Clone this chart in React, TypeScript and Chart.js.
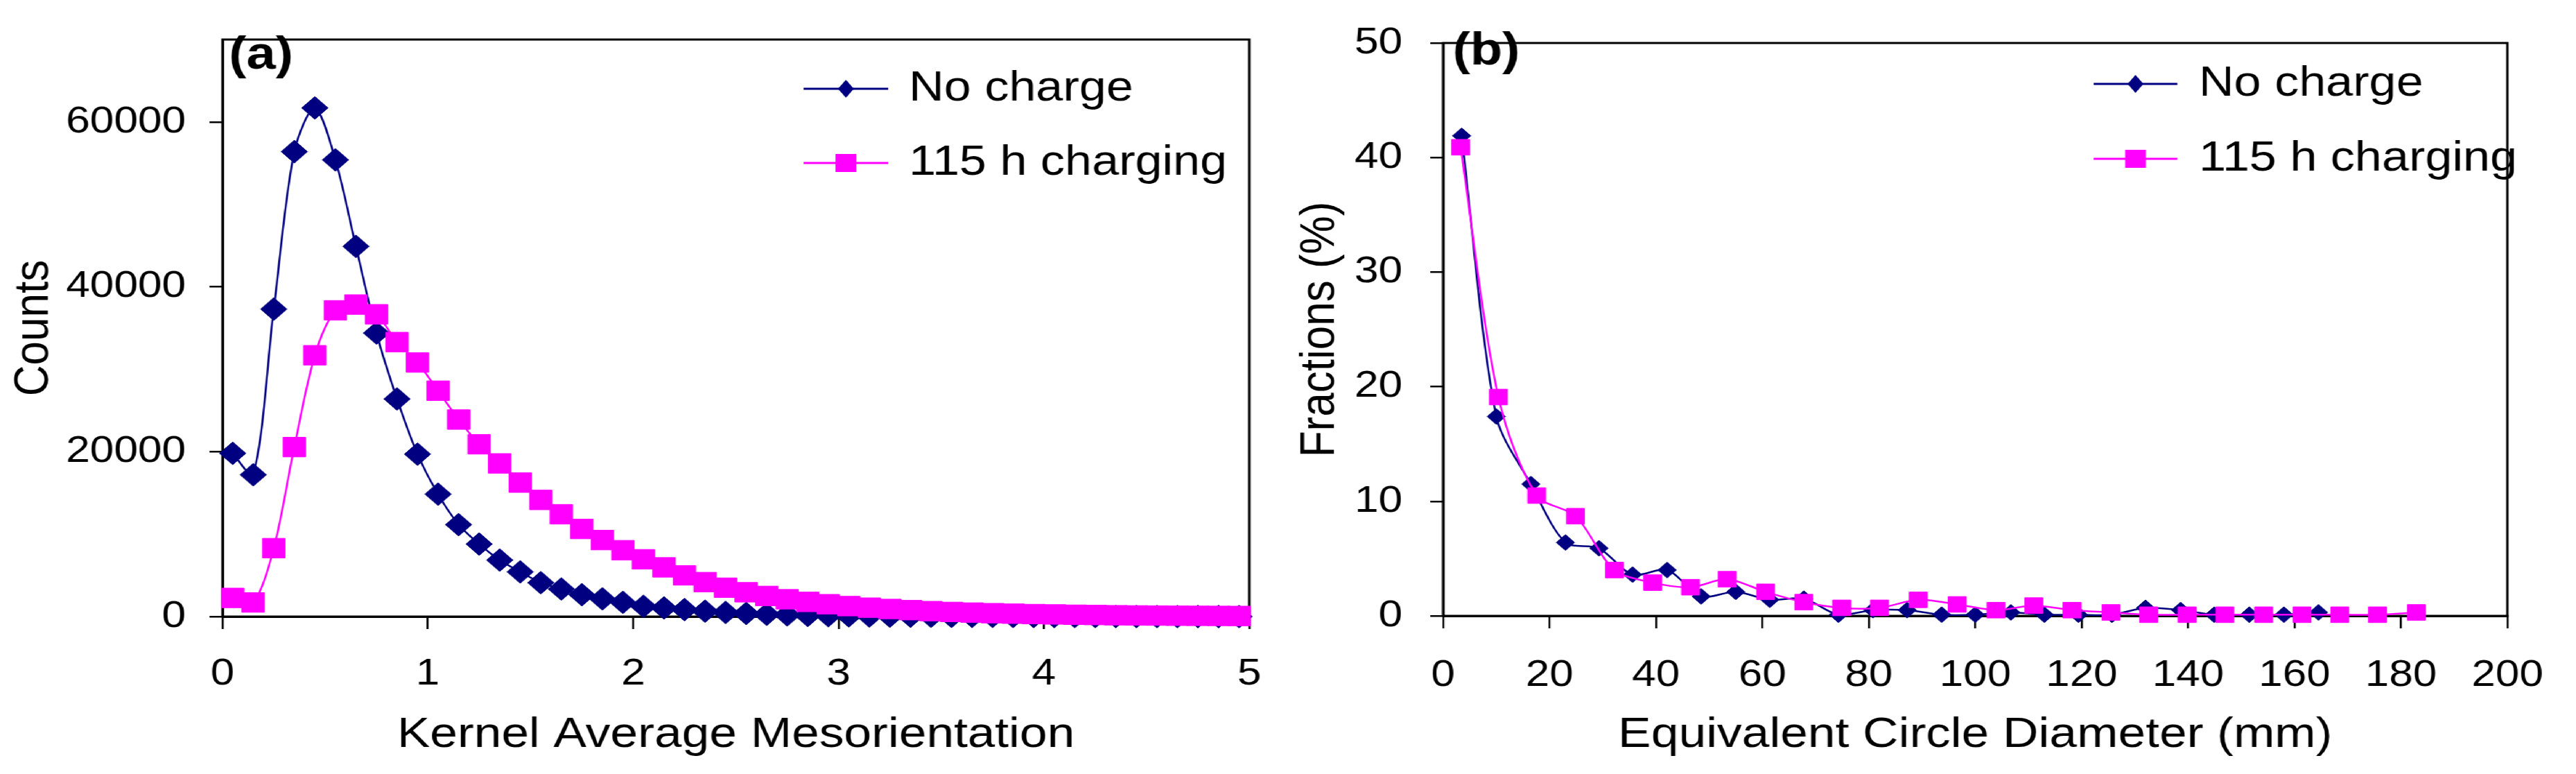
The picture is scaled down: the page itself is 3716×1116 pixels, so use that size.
import { useEffect, useRef } from 'react';
import { Chart, registerables, type ChartConfiguration, type Plugin } from 'chart.js';

Chart.register(...registerables);

// the source figure is a bit wider than its fonts, so the whole page is drawn
// at 3231 px and stretched out to 3716 px
const PAGE_W = 3231;
const PAGE_H = 1116;
const STRETCH = 3716 / PAGE_W;
const FONT = "Arial, 'Liberation Sans', sans-serif";
const NAVY = '#000080';
const MAGENTA = '#ff00ff';

Chart.defaults.font.family = FONT;
Chart.defaults.color = '#000000';

const seriesNames = ['No charge', '115 h charging'];

// (a) kernel average mesorientation, bin centres
const kamBins = [
  0.05, 0.15, 0.25, 0.35, 0.45, 0.55, 0.65, 0.75, 0.85, 0.95,
  1.05, 1.15, 1.25, 1.35, 1.45, 1.55, 1.65, 1.75, 1.85, 1.95,
  2.05, 2.15, 2.25, 2.35, 2.45, 2.55, 2.65, 2.75, 2.85, 2.95,
  3.05, 3.15, 3.25, 3.35, 3.45, 3.55, 3.65, 3.75, 3.85, 3.95,
  4.05, 4.15, 4.25, 4.35, 4.45, 4.55, 4.65, 4.75, 4.85, 4.95,
];
const kamNoCharge = [
  19800, 17200, 37300, 56400, 61700, 55400, 44900, 34400, 26400, 19700,
  14850, 11150, 8800, 6850, 5420, 4110, 3350, 2650, 2150, 1730,
  1250, 1050, 850, 650, 500, 380, 280, 200, 140, 100,
  80, 60, 50, 40, 32, 26, 20, 16, 12, 10,
  8, 6, 5, 4, 3, 2, 2, 1, 1, 1,
];
const kamCharged = [
  2260, 1710, 8300, 20560, 31700, 37150, 37850, 36670, 33300, 30820,
  27400, 23900, 20900, 18580, 16250, 14150, 12410, 10630, 9280, 8050,
  6950, 5970, 5000, 4180, 3500, 2950, 2500, 2100, 1780, 1500,
  1270, 1080, 920, 780, 660, 560, 480, 410, 350, 300,
  260, 220, 190, 160, 140, 120, 100, 90, 80, 70,
];
const kamXTicks = [0, 1, 2, 3, 4, 5];
const kamYTicks = [0, 20000, 40000, 60000];

// (b) equivalent circle diameter distribution
const ecdNoChargeX = [
  3.5, 10.0, 16.5, 23.0, 29.3, 35.6, 42.1, 48.5, 55.0, 61.4, 67.8, 74.3, 80.8,
  87.2, 93.7, 100.0, 106.7, 113.0, 119.4, 125.7, 132.0, 138.6, 144.9, 151.5, 158.0, 164.5,
];
const ecdNoCharge = [
  41.9, 17.4, 11.5, 6.4, 5.9, 3.6, 4.0, 1.7, 2.1, 1.4, 1.5, 0.1, 0.5,
  0.5, 0.1, 0.1, 0.3, 0.1, 0.1, 0.1, 0.7, 0.5, 0.1, 0.1, 0.1, 0.3,
];
const ecdChargedX = [
  3.3, 10.4, 17.6, 24.9, 32.2, 39.4, 46.5, 53.4, 60.6, 67.8, 74.9, 82.0, 89.3,
  96.6, 103.9, 111.0, 118.2, 125.5, 132.6, 139.8, 146.9, 154.2, 161.4, 168.5, 175.6, 182.9,
];
const ecdCharged = [
  40.9, 19.1, 10.5, 8.7, 4.0, 2.9, 2.5, 3.2, 2.1, 1.2, 0.7, 0.7, 1.4,
  1.0, 0.5, 0.9, 0.5, 0.3, 0.1, 0.1, 0.1, 0.1, 0.1, 0.1, 0.1, 0.3,
];
const ecdXTicks = [0, 20, 40, 60, 80, 100, 120, 140, 160, 180, 200];
const ecdYTicks = [0, 10, 20, 30, 40, 50];

const pairs = (xs: number[], ys: number[]) => xs.map((x, i) => ({ x, y: ys[i] }));

// plot frame, panel tag and the in-plot legend (line + marker + label)
const decor: Plugin = {
  id: 'decor',
  beforeDatasetsDraw(chart) {
    const { ctx, chartArea: a } = chart;
    ctx.save();
    ctx.strokeStyle = '#000';
    ctx.lineWidth = 3;
    ctx.strokeRect(a.left, a.top, a.right - a.left, a.bottom - a.top);
    ctx.restore();
  },
  afterDraw(chart, _args, opts: any) {
    const { ctx } = chart;
    ctx.save();
    ctx.fillStyle = '#000';
    ctx.font = `bold 66px ${FONT}`;
    ctx.textBaseline = 'alphabetic';
    ctx.fillText(opts.tag, opts.tagX, opts.tagY);

    chart.data.datasets.forEach((ds: any, i: number) => {
      const y = opts.rows[i];
      const cx = (opts.lineX0 + opts.lineX1) / 2;
      ctx.strokeStyle = ds.borderColor;
      ctx.lineWidth = 3;
      ctx.beginPath();
      ctx.moveTo(opts.lineX0, y);
      ctx.lineTo(opts.lineX1, y);
      ctx.stroke();
      ctx.fillStyle = ds.borderColor;
      ctx.beginPath();
      if (ds.pointStyle === 'rectRot') {
        ctx.moveTo(cx, y - 13);
        ctx.lineTo(cx + 10, y);
        ctx.lineTo(cx, y + 13);
        ctx.lineTo(cx - 10, y);
        ctx.closePath();
      } else {
        ctx.rect(cx - 13, y - 13, 26, 26);
      }
      ctx.fill();
      ctx.fillStyle = '#000';
      ctx.font = `61px ${FONT}`;
      ctx.textBaseline = 'middle';
      ctx.fillText(ds.label, opts.textX, y);
    });
    ctx.restore();
  },
};

type AxisSpec = {
  xMax: number; yMax: number;
  xTicks: number[]; yTicks: number[];
  xTitle: string; yTitle: string;
  yAxisW: number; xAxisH: number;
  yTickPad: number; xTickPad: number; yTitlePad: number;
};

function makeScales(s: AxisSpec): any {
  const tickFont = { family: FONT, size: 54, lineHeight: 1 };
  const titleFont = { family: FONT, size: 62, lineHeight: 1.1 };
  return {
    x: {
      type: 'linear',
      min: 0,
      max: s.xMax,
      border: { color: '#000', width: 3 },
      grid: { drawOnChartArea: false, color: '#000', lineWidth: 2.5, tickLength: 18 },
      ticks: {
        font: tickFont, color: '#000', padding: s.xTickPad,
        maxRotation: 0, autoSkip: false, callback: (v: number) => String(v),
      },
      afterBuildTicks: (axis: any) => { axis.ticks = s.xTicks.map((value) => ({ value })); },
      title: { display: true, text: s.xTitle, font: titleFont, color: '#000', padding: { top: 0, bottom: 22 } },
      afterFit: (axis: any) => { axis.height = s.xAxisH; },
    },
    y: {
      type: 'linear',
      min: 0,
      max: s.yMax,
      border: { color: '#000', width: 3 },
      grid: { drawOnChartArea: false, color: '#000', lineWidth: 2.5, tickLength: 16 },
      ticks: {
        font: tickFont, color: '#000', padding: s.yTickPad, autoSkip: false,
        callback: (v: number) => String(v),
      },
      afterBuildTicks: (axis: any) => { axis.ticks = s.yTicks.map((value) => ({ value })); },
      title: { display: true, text: s.yTitle, font: titleFont, color: '#000', padding: { top: s.yTitlePad, bottom: 0 } },
      afterFit: (axis: any) => { axis.width = s.yAxisW; },
    },
  };
}

function series(label: string, color: string, style: 'rectRot' | 'rect', radius: number, data: { x: number; y: number }[], order: number) {
  return {
    label,
    data,
    order,
    borderColor: color,
    backgroundColor: color,
    pointBackgroundColor: color,
    pointBorderColor: color,
    pointBorderWidth: 1,
    pointStyle: style,
    pointRadius: radius,
    borderWidth: 2.5,
    tension: 0.3,
    clip: false as const,
  };
}

const kamConfig: ChartConfiguration = {
  type: 'line',
  data: {
    datasets: [
      series(seriesNames[0], NAVY, 'rectRot', 16.5, pairs(kamBins, kamNoCharge), 2),
      series(seriesNames[1], MAGENTA, 'rect', 20, pairs(kamBins, kamCharged), 1),
    ],
  },
  options: {
    animation: false,
    responsive: false,
    layout: { padding: { top: 33, right: 34, bottom: 0, left: 0 } },
    scales: makeScales({
      xMax: 5, yMax: 70000, xTicks: kamXTicks, yTicks: kamYTicks,
      xTitle: 'Kernel Average Mesorientation', yTitle: 'Counts',
      yAxisW: 279, xAxisH: 227, yTickPad: 30, xTickPad: 38, yTitlePad: 9,
    }),
    plugins: {
      legend: { display: false },
      tooltip: { enabled: false },
      decor: { tag: '(a)', tagX: 287, tagY: 99, lineX0: 1008, lineX1: 1114, textX: 1140, rows: [128, 235] },
    } as any,
  },
  plugins: [decor],
};

const ecdConfig: ChartConfiguration = {
  type: 'line',
  data: {
    datasets: [
      series(seriesNames[0], NAVY, 'rectRot', 11.5, pairs(ecdNoChargeX, ecdNoCharge), 2),
      series(seriesNames[1], MAGENTA, 'rect', 16, pairs(ecdChargedX, ecdCharged), 1),
    ],
  },
  options: {
    animation: false,
    responsive: false,
    layout: { padding: { top: 28, right: 59, bottom: 0, left: 0 } },
    scales: makeScales({
      xMax: 200, yMax: 50, xTicks: ecdXTicks, yTicks: ecdYTicks,
      xTitle: 'Equivalent Circle Diameter (mm)', yTitle: 'Fractions (%)',
      yAxisW: 190, xAxisH: 228, yTickPad: 35, xTickPad: 41, yTitlePad: 2,
    }),
    plugins: {
      legend: { display: false },
      tooltip: { enabled: false },
      decor: { tag: '(b)', tagX: 202, tagY: 93, lineX0: 1006, lineX1: 1111, textX: 1138, rows: [121, 229] },
    } as any,
  },
  plugins: [decor],
};

function ChartCanvas({ config, left, width }: { config: ChartConfiguration; left: number; width: number }) {
  const canvas = useRef<HTMLCanvasElement>(null);
  useEffect(() => {
    if (!canvas.current) return;
    const chart = new Chart(canvas.current, config);
    return () => chart.destroy();
  }, [config]);
  return (
    <canvas
      ref={canvas}
      width={width}
      height={PAGE_H}
      style={{ position: 'absolute', left, top: 0 }}
    />
  );
}

export default function App() {
  return (
    <div
      style={{
        position: 'fixed',
        left: 0,
        top: 0,
        width: PAGE_W,
        height: PAGE_H,
        background: '#ffffff',
        transform: `scaleX(${STRETCH})`,
        transformOrigin: '0 0',
      }}
    >
      <ChartCanvas config={kamConfig} left={0} width={1620} />
      <ChartCanvas config={ecdConfig} left={1620} width={PAGE_W - 1620} />
    </div>
  );
}
